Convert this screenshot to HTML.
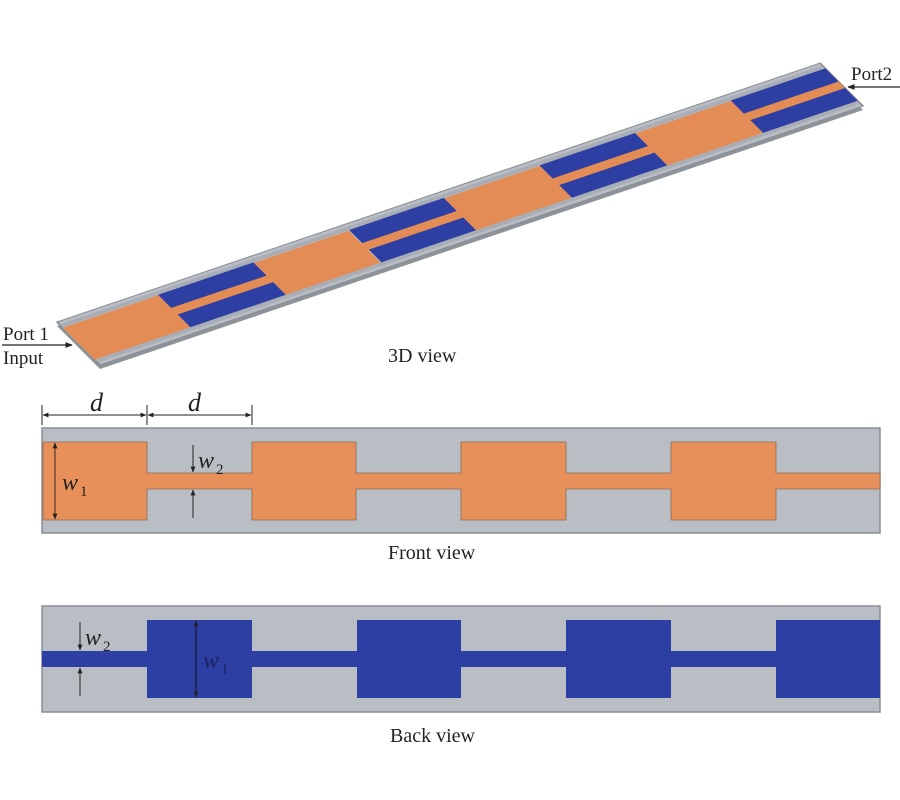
<!DOCTYPE html>
<html><head><meta charset="utf-8"><style>
html,body{margin:0;padding:0;background:#fff;}
svg{display:block;}
text{font-family:"Liberation Serif",serif;fill:#222;}
</style></head><body>
<svg width="900" height="800" viewBox="0 0 900 800" xmlns="http://www.w3.org/2000/svg">
<defs>
<marker id="ah" viewBox="0 0 10 10" refX="9" refY="5" markerWidth="6" markerHeight="6" orient="auto-start-reverse"><path d="M0,1 L10,5 L0,9 z" fill="#222"/></marker>
</defs>
<!-- 3D view -->
<g transform="matrix(0.9105,-0.309,0.4095,0.4095,57,326)">
  <rect x="0" y="0" width="838" height="105" fill="#8e939a"/>
</g>
<g transform="matrix(0.9105,-0.309,0.4095,0.4095,57,322)">
  <rect x="0" y="0" width="838" height="105" fill="#b9bdc4" stroke="#8a8e95" stroke-width="2"/>
  <rect x="2" y="6" width="834" height="93" fill="#a9adb5"/>
  <rect x="0" y="13" width="838" height="79" fill="#b9bdc4"/>
  <g fill="#2d3fa3">
    <rect x="105" y="13" width="105" height="79"/>
    <rect x="315" y="13" width="104" height="79"/>
    <rect x="524" y="13" width="105" height="79"/>
    <rect x="734" y="13" width="104" height="79"/>
  </g>
  <g fill="#e48c55">
    <rect x="0" y="14" width="105" height="78"/>
    <rect x="210" y="14" width="104" height="78"/>
    <rect x="419" y="14" width="105" height="78"/>
    <rect x="629" y="14" width="105" height="78"/>
    <rect x="0" y="45" width="838" height="16"/>
  </g>
</g>
<line x1="2" y1="345" x2="72" y2="345" stroke="#222" stroke-width="1.2" marker-end="url(#ah)"/>
<text x="3" y="340" font-size="19">Port 1</text>
<text x="3" y="364" font-size="19">Input</text>
<line x1="900" y1="87" x2="848" y2="87" stroke="#222" stroke-width="1.2" marker-end="url(#ah)"/>
<text x="851" y="80" font-size="19">Port2</text>
<text x="388" y="362" font-size="20">3D view</text>

<!-- Front view -->
<line x1="42" y1="405" x2="42" y2="425" stroke="#222"/>
<line x1="147" y1="405" x2="147" y2="425" stroke="#222"/>
<line x1="252" y1="405" x2="252" y2="425" stroke="#222"/>
<line x1="43" y1="415" x2="146" y2="415" stroke="#222" marker-start="url(#ah)" marker-end="url(#ah)"/>
<line x1="148" y1="415" x2="251" y2="415" stroke="#222" marker-start="url(#ah)" marker-end="url(#ah)"/>
<text x="90" y="411" font-size="26" font-style="italic">d</text>
<text x="188" y="411" font-size="26" font-style="italic">d</text>
<rect x="42" y="428" width="838" height="105" fill="#b9bdc4" stroke="#8a8e95" stroke-width="1.5"/>
<g fill="#e8905a" stroke="#8a6a55" stroke-width="0.8">
  <path d="M43,442 H147 V473 H252 V442 H356 V473 H461 V442 H566 V473 H671 V442 H776 V473 H880 V489 H776 V520 H671 V489 H566 V520 H461 V489 H356 V520 H252 V489 H147 V520 H43 Z"/>
</g>
<line x1="55" y1="443" x2="55" y2="519" stroke="#3a2a20" stroke-width="1" marker-start="url(#ah)" marker-end="url(#ah)"/>
<text x="62" y="490" font-size="24" font-style="italic">w</text><text x="80" y="496" font-size="15">1</text>
<line x1="193" y1="445" x2="193" y2="472" stroke="#222" marker-end="url(#ah)"/>
<line x1="193" y1="518" x2="193" y2="490" stroke="#222" marker-end="url(#ah)"/>
<text x="198" y="468" font-size="24" font-style="italic">w</text><text x="216" y="474" font-size="15">2</text>
<text x="388" y="559" font-size="20">Front view</text>

<!-- Back view -->
<rect x="42" y="606" width="838" height="106" fill="#b9bdc4" stroke="#8a8e95" stroke-width="1.5"/>
<g fill="#2d3fa3">
  <path d="M42,651 H147 V620 H252 V651 H357 V620 H461 V651 H566 V620 H671 V651 H776 V620 H880 V698 H776 V667 H671 V698 H566 V667 H461 V698 H357 V667 H252 V698 H147 V667 H42 Z"/>
</g>
<line x1="80" y1="622" x2="80" y2="650" stroke="#222" marker-end="url(#ah)"/>
<line x1="80" y1="696" x2="80" y2="668" stroke="#222" marker-end="url(#ah)"/>
<text x="85" y="645" font-size="24" font-style="italic">w</text><text x="103" y="651" font-size="15">2</text>
<line x1="196" y1="621" x2="196" y2="697" stroke="#111" stroke-width="1" marker-start="url(#ah)" marker-end="url(#ah)"/>
<text x="203" y="668" font-size="24" font-style="italic" style="fill:#1a2260">w</text><text x="221" y="674" font-size="15" style="fill:#1a2260">1</text>
<text x="390" y="742" font-size="20">Back view</text>
</svg>
</body></html>
